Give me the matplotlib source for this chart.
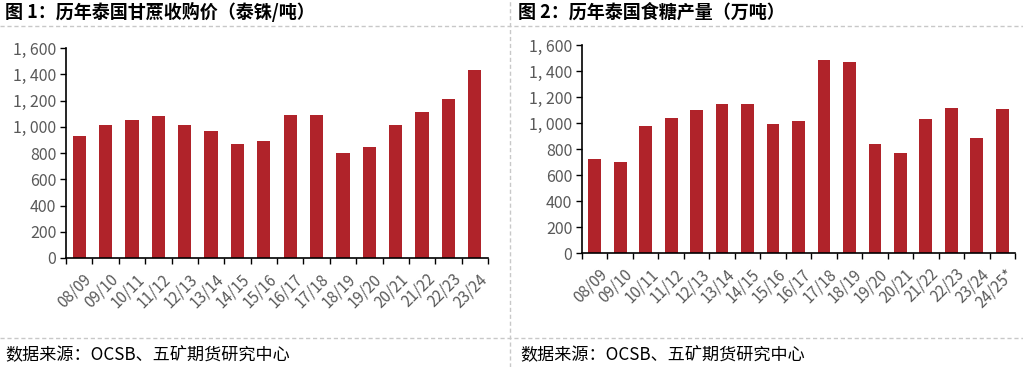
import numpy as np
import matplotlib.pyplot as plt
from matplotlib.lines import Line2D

plt.rcParams['font.family'] = ['Noto Sans CJK SC', 'DejaVu Sans']

seasons1 = ['08/09', '09/10', '10/11', '11/12', '12/13', '13/14', '14/15', '15/16',
            '16/17', '17/18', '18/19', '19/20', '20/21', '21/22', '22/23', '23/24']
cane_price = [930, 1010, 1050, 1085, 1010, 970, 865, 895,
              1092, 1092, 800, 845, 1012, 1115, 1210, 1430]

seasons2 = seasons1 + ['24/25*']
sugar_output = [723, 700, 974, 1035, 1102, 1145, 1145, 989,
                1015, 1485, 1470, 836, 769, 1027, 1114, 887, 1107]

title1 = '图 1：历年泰国甘蔗收购价（泰铢/吨）'
title2 = '图 2：历年泰国食糖产量（万吨）'
source = '数据来源：OCSB、五矿期货研究中心'

W, H = 1023, 367
bar_color = '#B0232A'
grey = '#595959'

fig = plt.figure(figsize=(W / 100, H / 100), dpi=100)


def px_axes(x0, x1, ytop, ybot):
    return fig.add_axes([x0 / W, (H - ybot) / H, (x1 - x0) / W, (ybot - ytop) / H])


def draw(ax, labels, vals):
    n = len(labels)
    x = np.arange(n)
    ax.bar(x, vals, width=0.5, color=bar_color, zorder=2)
    ax.set_xlim(-0.5, n - 0.5)
    ax.set_ylim(0, 1600)
    ax.set_yticks(range(0, 1601, 200))
    ax.set_yticklabels([f'{v:,}'.replace(',', ', ') for v in range(0, 1601, 200)])
    ax.set_xticks(x + 0.15)
    ax.set_xticklabels(labels, rotation=45, ha='right', va='top',
                       rotation_mode='anchor')
    ax.set_xticks(np.arange(-0.5, n, 1.0), minor=True)
    ax.tick_params(axis='x', which='major', length=0, pad=9,
                   labelsize=11, labelcolor=grey)
    ax.tick_params(axis='x', which='minor', length=4, width=1, color='black',
                   direction='out')
    ax.tick_params(axis='y', length=4, width=1, color='black', direction='out',
                   labelsize=11.5, labelcolor=grey, pad=3)
    for s in ['top', 'right']:
        ax.spines[s].set_visible(False)
    for s in ['left', 'bottom']:
        ax.spines[s].set_color('black')
        ax.spines[s].set_linewidth(1.2)


ax1 = px_axes(66, 488, 48, 258)
draw(ax1, seasons1, cane_price)
ax2 = px_axes(582, 1015, 45, 253)
draw(ax2, seasons2, sugar_output)

fig.text(5 / W, 1 - 12 / H, title1, fontsize=13, fontweight='bold',
         va='center', ha='left', color='black')
fig.text(518 / W, 1 - 12 / H, title2, fontsize=13, fontweight='bold',
         va='center', ha='left', color='black')
fig.text(5 / W, 1 - 354 / H, source, fontsize=12.3, va='center', ha='left',
         color='black')
fig.text(520 / W, 1 - 354 / H, source, fontsize=12.3, va='center', ha='left',
         color='black')

dash = dict(color='#C8C8C8', linewidth=1, linestyle=(0, (3, 2)))
fig.add_artist(Line2D([0, 1], [1 - 26 / H, 1 - 26 / H], **dash))
fig.add_artist(Line2D([0, 1], [1 - 338 / H, 1 - 338 / H], **dash))
fig.add_artist(Line2D([510 / W, 510 / W], [0, 1], **dash))

fig.savefig('out.png', dpi=100)
